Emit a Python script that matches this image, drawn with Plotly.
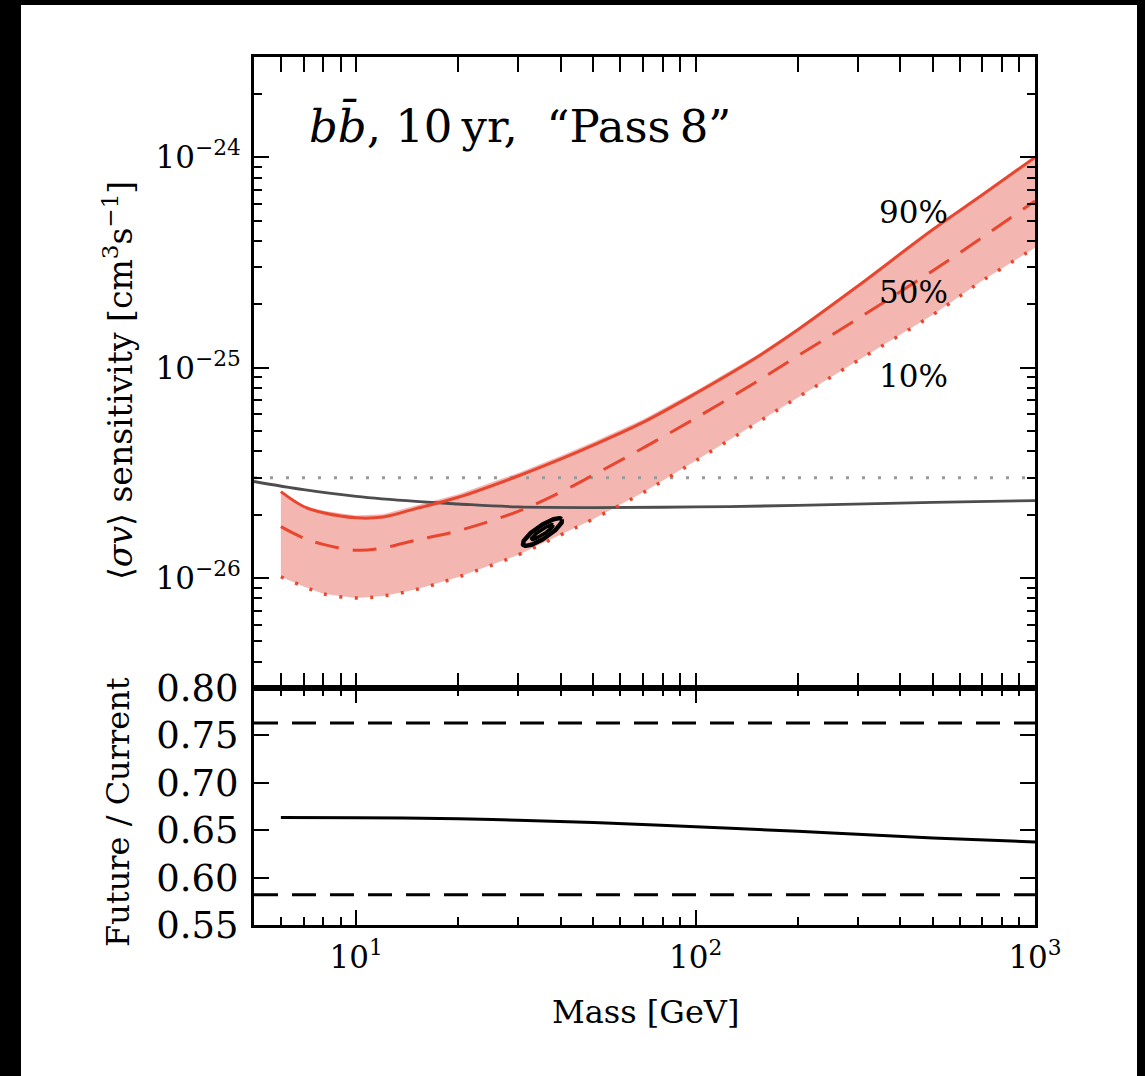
import numpy as np
import plotly.graph_objects as go

# ---------------- data ----------------
mass = [6, 7, 8, 10, 12, 15, 20, 30, 40, 50, 70, 100, 150, 200, 300, 500, 700, 1000]
sv_90 = [2.576e-26, 2.188e-26, 2.042e-26, 1.932e-26, 1.950e-26, 2.138e-26, 2.421e-26,
         3.055e-26, 3.673e-26, 4.285e-26, 5.495e-26, 7.534e-26, 1.109e-25, 1.514e-25,
         2.438e-25, 4.539e-25, 6.637e-25, 1.0e-24]
sv_50 = [1.754e-26, 1.549e-26, 1.445e-26, 1.355e-26, 1.390e-26, 1.514e-26, 1.679e-26,
         2.075e-26, 2.559e-26, 3.090e-26, 4.150e-26, 5.754e-26, 8.511e-26, 1.138e-25,
         1.706e-25, 2.891e-25, 4.169e-25, 6.209e-25]
sv_10 = [1.014e-26, 9.12e-27, 8.41e-27, 8.04e-27, 8.22e-27, 8.81e-27, 1.012e-26,
         1.288e-26, 1.603e-26, 1.910e-26, 2.547e-26, 3.606e-26, 5.408e-26, 7.228e-26,
         1.079e-25, 1.786e-25, 2.594e-25, 3.715e-25]
band_hi = [2.576e-26, 2.21e-26, 2.09e-26, 1.985e-26, 2.01e-26, 2.21e-26, 2.505e-26,
           3.16e-26, 3.80e-26, 4.43e-26, 5.67e-26, 7.75e-26, 1.135e-25, 1.54e-25,
           2.465e-25, 4.56e-25, 6.64e-25, 1.0e-24]

mass_cur = [5, 7, 10, 15, 20, 30, 50, 100, 200, 500, 1000]
sv_cur = [2.877e-26, 2.630e-26, 2.443e-26, 2.312e-26, 2.249e-26, 2.178e-26,
          2.163e-26, 2.178e-26, 2.213e-26, 2.291e-26, 2.333e-26]

thermal_sv = 3.0e-26
x_span = [5, 1000]

# GC excess contour (centre and half-axis vectors in decades)
ell_center = (35.4, 1.655e-26)
ell_outer_major = (0.057, 0.061)
ell_outer_minor = (-0.0105, 0.025)
ell_inner_major = (0.032, 0.034)
ell_inner_minor = (-0.004, 0.0095)

ratio_mass = [6, 10, 20, 30, 50, 100, 200, 300, 500, 1000]
ratio = [0.6635, 0.6632, 0.662, 0.6605, 0.658, 0.6537, 0.6488, 0.6458, 0.6418, 0.6375]
ratio_hi = 0.763
ratio_lo = 0.582

pct_labels = ["90%", "50%", "10%"]
pct_pos_mass = [440, 440, 440]
pct_pos_sv = [5.47e-25, 2.28e-25, 9.16e-26]

ytick_top = [1e-26, 1e-25, 1e-24]
ytick_top_text = ["10<sup>−26</sup>", "10<sup>−25</sup>", "10<sup>−24</sup>"]
ytick_bot = [0.55, 0.60, 0.65, 0.70, 0.75, 0.80]
ytick_bot_text = ["0.55", "0.60", "0.65", "0.70", "0.75", "0.80"]
xtick = [10, 100, 1000]
xtick_text = ["10<sup>1</sup>", "10<sup>2</sup>", "10<sup>3</sup>"]
xminor = [6, 7, 8, 9, 20, 30, 40, 50, 60, 70, 80, 90, 200, 300, 400, 500, 600, 700, 800, 900]
yminor_top = [k * 10.0 ** e for e in (-27, -26, -25, -24) for k in range(2, 10)
              if 3e-27 <= k * 10.0 ** e <= 3e-24]

# ---------------- styling ----------------
RED = "#e9462f"
PINK = "#f4b6b1"
FONT = "DejaVu Serif"
W, H = 1145, 1076
L, R, T, B = 254, 1035, 57, 925


def px_x(p):
    return (p - L) / (R - L)


def px_y(p):
    return (B - p) / (B - T)


fig = go.Figure()

# band
fig.add_trace(go.Scatter(x=mass + mass[::-1], y=band_hi + sv_10[::-1], fill="toself",
                         fillcolor=PINK, line=dict(width=0), mode="lines",
                         hoverinfo="skip", showlegend=False, xaxis="x", yaxis="y"))
# thermal relic
fig.add_trace(go.Scatter(x=x_span, y=[thermal_sv, thermal_sv], mode="lines",
                         line=dict(color="#9a9a9a", width=3, dash="3px,13px"),
                         showlegend=False, xaxis="x", yaxis="y"))
# current limit
fig.add_trace(go.Scatter(x=mass_cur, y=sv_cur, mode="lines", line=dict(color="#4d4d4d", width=2.8, shape="spline"),
                         showlegend=False, xaxis="x", yaxis="y"))
# red curves
fig.add_trace(go.Scatter(x=mass, y=sv_10, mode="lines", line=dict(color=RED, width=3.5, dash="3px,12.5px", shape="spline"),
                         showlegend=False, xaxis="x", yaxis="y"))
fig.add_trace(go.Scatter(x=mass, y=sv_50, mode="lines", line=dict(color=RED, width=3, dash="24px,14px", shape="spline"),
                         showlegend=False, xaxis="x", yaxis="y"))
fig.add_trace(go.Scatter(x=mass, y=sv_90, mode="lines", line=dict(color=RED, width=3, shape="spline"),
                         showlegend=False, xaxis="x", yaxis="y"))

# ellipse contours
t = np.linspace(0, 2 * np.pi, 121)
lc, sc = np.log10(ell_center[0]), np.log10(ell_center[1])
for (maj, mnr, wid) in [(ell_outer_major, ell_outer_minor, 4.5), (ell_inner_major, ell_inner_minor, 3.5)]:
    ex = lc + maj[0] * np.cos(t) + mnr[0] * np.sin(t)
    ey = sc + maj[1] * np.cos(t) + mnr[1] * np.sin(t)
    fig.add_trace(go.Scatter(x=10 ** ex, y=10 ** ey, mode="lines", line=dict(color="black", width=wid),
                             showlegend=False, xaxis="x", yaxis="y"))

# bottom panel
for v in (ratio_hi, ratio_lo):
    fig.add_trace(go.Scatter(x=x_span, y=[v, v], mode="lines",
                             line=dict(color="black", width=3, dash="24px,14px"),
                             showlegend=False, xaxis="x2", yaxis="y2"))
fig.add_trace(go.Scatter(x=ratio_mass, y=ratio, mode="lines", line=dict(color="black", width=3, shape="spline"),
                         showlegend=False, xaxis="x2", yaxis="y2"))

split = px_y(688)
common_x = dict(type="log", range=[np.log10(5), 3], showline=True, linewidth=3, linecolor="black",
                mirror="allticks", ticks="inside", ticklen=15, tickwidth=2, tickcolor="black",
                showgrid=False, zeroline=False,
                minor=dict(tickvals=xminor, ticks="inside", ticklen=8, tickwidth=2, tickcolor="black", showgrid=False))

fig.update_layout(
    width=W, height=H,
    margin=dict(l=L, r=W - R, t=T, b=H - B, pad=0),
    paper_bgcolor="black", plot_bgcolor="white",
    font=dict(family=FONT, color="black", size=30),
    xaxis=dict(common_x, domain=[0, 1], anchor="y", showticklabels=False, matches="x2"),
    xaxis2=dict(common_x, domain=[0, 1], anchor="y2", tickvals=xtick, ticktext=xtick_text,
                tickfont=dict(size=31), ticklabelstandoff=3),
    yaxis=dict(type="log", domain=[split, 1], anchor="x", range=[np.log10(3e-27), np.log10(3e-24)],
               showline=True, linewidth=3, linecolor="black", mirror="allticks", ticks="inside",
               ticklen=15, tickwidth=2, tickcolor="black", showgrid=False, zeroline=False,
               tickvals=ytick_top, ticktext=ytick_top_text, tickfont=dict(size=31), ticklabelstandoff=4,
               minor=dict(tickvals=yminor_top, ticks="inside", ticklen=8, tickwidth=2, tickcolor="black",
                          showgrid=False)),
    yaxis2=dict(domain=[0, split], anchor="x2", range=[0.55, 0.80], showline=True, linewidth=3,
                linecolor="black", mirror="allticks", ticks="inside", ticklen=15, tickwidth=2,
                tickcolor="black", showgrid=False, zeroline=False, tickvals=ytick_bot,
                ticktext=ytick_bot_text, tickfont=dict(size=37), ticklabelstandoff=5),
    shapes=[dict(type="rect", xref="paper", yref="paper", x0=px_x(21), x1=px_x(1137),
                 y0=px_y(1076), y1=px_y(5), fillcolor="white", line=dict(width=0), layer="below")],
)

ann = []
for lab, m, s in zip(pct_labels, pct_pos_mass, pct_pos_sv):
    ann.append(dict(x=np.log10(m), y=np.log10(s), xref="x", yref="y", text=lab, showarrow=False,
                    font=dict(size=31, family=FONT), xanchor="center", yanchor="middle"))
ann.append(dict(x=px_x(307), y=px_y(126), xref="paper", yref="paper",
                text="<i>b</i><i>b\u0304</i>, 10\u2009yr,  \u201cPass\u20098\u201d", showarrow=False,
                font=dict(size=45, family=FONT), xanchor="left", yanchor="middle"))
ann.append(dict(x=px_x(118), y=px_y(381), xref="paper", yref="paper",
                text="\u27e8<i>σv</i>\u27e9 sensitivity [cm<sup>3</sup>s<sup>−1</sup>]", textangle=-90,
                showarrow=False, font=dict(size=33, family=FONT), xanchor="center", yanchor="middle"))
ann.append(dict(x=px_x(118), y=px_y(812), xref="paper", yref="paper",
                text="Future / Current", textangle=-90,
                showarrow=False, font=dict(size=32, family=FONT), xanchor="center", yanchor="middle"))
ann.append(dict(x=px_x(645), y=px_y(1012), xref="paper", yref="paper",
                text="Mass [GeV]", showarrow=False, font=dict(size=32, family=FONT),
                xanchor="center", yanchor="middle"))
fig.update_layout(annotations=ann)

fig.write_html("out.html")
